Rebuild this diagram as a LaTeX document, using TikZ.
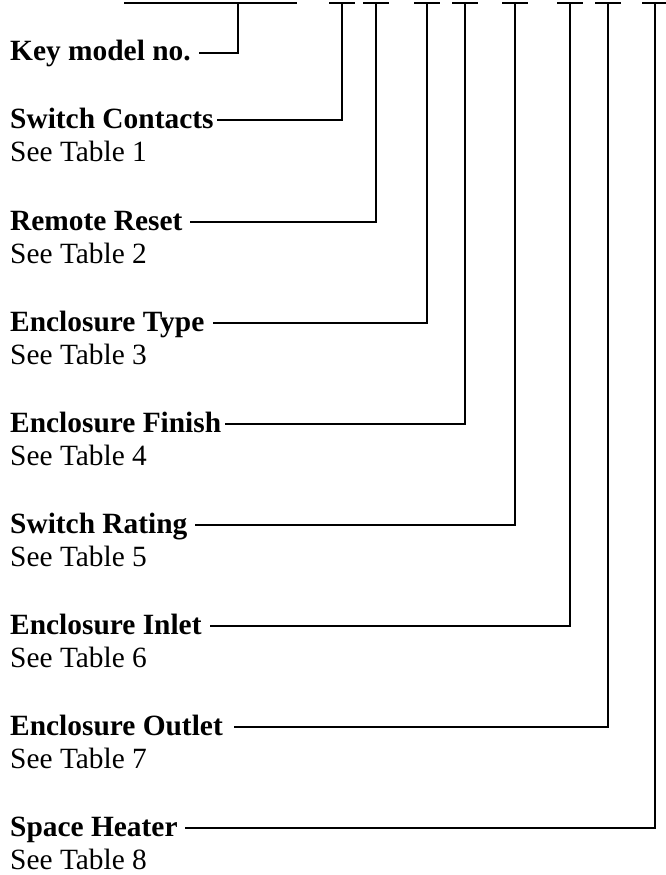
\documentclass[tikz,border=0pt]{standalone}
\usepackage{fontspec}
\setmainfont{Liberation Serif}
\begin{document}
\begin{tikzpicture}[x=1pt,y=-1pt,
  lbl/.style={anchor=base west,inner sep=0pt,font=\fontsize{29.4}{35}\selectfont\bfseries},
  sub/.style={anchor=base west,inner sep=0pt,font=\fontsize{29.4}{35}\selectfont},
  wire/.style={line width=1.8pt,line cap=rect,line join=miter}]
\useasboundingbox (0,0) rectangle (665,875);
% top bar
\coordinate (m1) at (125,3);
\coordinate (m2) at (296,3);
\draw[wire] (m1) -- (m2);
% key model
\coordinate (tk) at (238,3);
\node[lbl] (k) at (10,61) {Key model no.};
\draw[wire] ([xshift=9pt]k.east |- 0,53) -- (tk |- 0,53) -- (tk);
% items: name, label, y, x, gap, table
\foreach \n/\t/\yy/\xx/\g/\tab in {
  a/Switch Contacts/120/342/4/1,
  b/Remote Reset/222/376/8/2,
  c/Enclosure Type/323/427/9/3,
  d/Enclosure Finish/424/465/4/4,
  e/Switch Rating/525/515/8/5,
  f/Enclosure Inlet/626/570/9/6,
  g/Enclosure Outlet/727/608/12/7,
  h/Space Heater/828/655/8/8}{
  \coordinate (t\n) at (\xx,3);
  \coordinate (c\n) at (\xx,\yy);
  \node[lbl] (l\n) at (10,\yy+8) {\t};
  \node[sub] (s\n) at (10,\yy+41) {See Table \tab};
  \draw[wire] ([xshift=-12.5pt]t\n) -- ([xshift=12.5pt]t\n);
  \draw[wire] ([xshift=\g pt]l\n.east |- c\n) -- (c\n) -- (t\n);
}
\end{tikzpicture}
\end{document}
